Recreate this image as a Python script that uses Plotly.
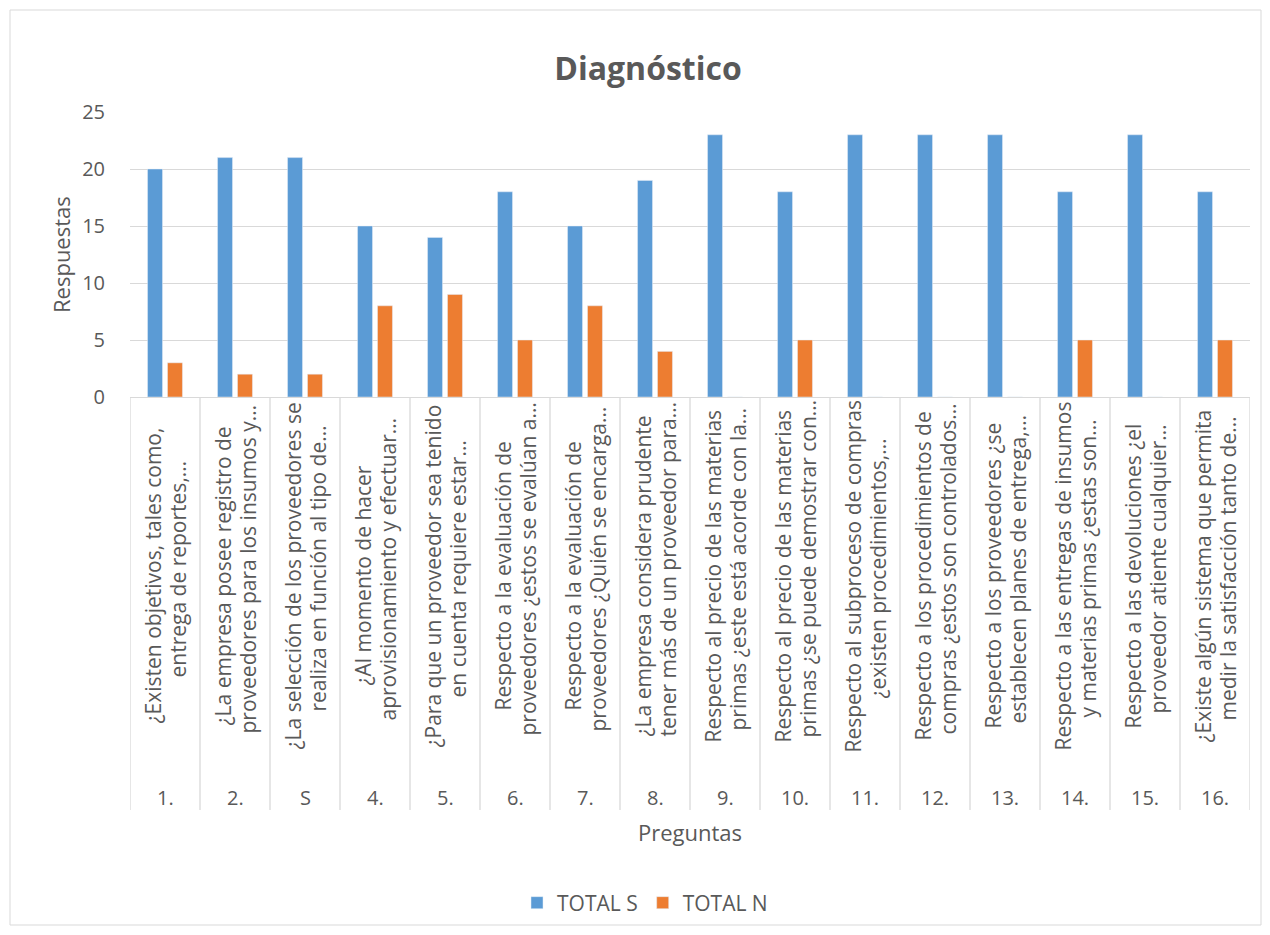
import plotly.graph_objects as go

# ---- data ----
num_labels = ["1.", "2.", "S", "4.", "5.", "6.", "7.", "8.", "9.", "10.",
              "11.", "12.", "13.", "14.", "15.", "16."]
question_line1 = [
    "¿Existen objetivos, tales como,",
    "¿La empresa posee registro de",
    "¿La selección de los proveedores se",
    "¿Al momento de hacer",
    "¿Para que un proveedor sea tenido",
    "Respecto a la evaluación de",
    "Respecto a la evaluación de",
    "¿La empresa considera prudente",
    "Respecto al precio de las materias",
    "Respecto al precio de las materias",
    "Respecto al subproceso de compras",
    "Respecto a los procedimientos de",
    "Respecto a los proveedores ¿se",
    "Respecto a las entregas de insumos",
    "Respecto a las devoluciones ¿el",
    "¿Existe algún sistema que permita",
]
question_line2 = [
    "entrega de reportes,…",
    "proveedores para los insumos y…",
    "realiza en función al tipo de…",
    "aprovisionamiento y efectuar…",
    "en cuenta requiere estar…",
    "proveedores ¿estos se evalúan a…",
    "proveedores ¿Quién se encarga…",
    "tener más de un proveedor para…",
    "primas ¿este está acorde con la…",
    "primas ¿se puede demostrar con…",
    "¿existen procedimientos,…",
    "compras ¿estos son controlados…",
    "establecen planes de entrega,…",
    "y materias primas ¿estas son…",
    "proveedor atiente cualquier…",
    "medir la satisfacción tanto de…",
]
total_s = [20, 21, 21, 15, 14, 18, 15, 19, 23, 18, 23, 23, 23, 18, 23, 18]
total_n = [3, 2, 2, 8, 9, 5, 8, 4, 0, 5, 0, 0, 0, 5, 0, 5]
y_ticks = [0, 5, 10, 15, 20, 25]

# ---- layout geometry (pixels, in screenshot coords) ----
OFF = 8                      # page body margin
W, H = 1270 - OFF, 935 - OFF
L, R, T, B0 = 130, 1250, 112, 397   # plot area in screenshot coords
ph = B0 - T
def py(ypix):  # screenshot pixel -> paper y
    return (B0 - ypix) / ph
def px(xpix):
    return (xpix - L) / (R - L)
def cy(ypix):  # screenshot pixel -> container y
    return 1 - (ypix - OFF) / H
def cx(xpix):
    return (xpix - OFF) / W

FONT = "Open Sans"
GREY = "#595959"
LINE = "#d9d9d9"
CAT_W = (R - L) / len(num_labels)
line_off = 12.5 / CAT_W      # half line spacing in category units

fig = go.Figure()
fig.add_trace(go.Bar(x=num_labels, y=total_s, name="TOTAL S",
                     marker=dict(color="#5B9BD5")))
fig.add_trace(go.Bar(x=num_labels, y=total_n, name="TOTAL N",
                     marker=dict(color="#ED7D31")))

annotations = []
shapes = []
n = len(num_labels)
for i in range(n):
    for txt, dx, yc in ((question_line1[i], -line_off, 576),
                        (question_line2[i], line_off, 569)):
        annotations.append(dict(
            x=i + dx, xref="x", y=py(yc), yref="paper", text=txt,
            textangle=-90, xanchor="center", yanchor="middle",
            showarrow=False, font=dict(family=FONT, size=21, color=GREY)))
    annotations.append(dict(
        x=i, xref="x", y=py(797), yref="paper", text=num_labels[i],
        xanchor="center", yanchor="middle", showarrow=False,
        font=dict(family=FONT, size=20, color=GREY)))
for i in range(n + 1):
    shapes.append(dict(type="line", xref="x", yref="paper",
                       x0=i - 0.5, x1=i - 0.5, y0=0, y1=py(810),
                       line=dict(color=LINE, width=1.3)))

# outer chart border
shapes.append(dict(type="rect", xref="paper", yref="paper",
                   x0=px(10), x1=px(1261), y0=py(925), y1=py(10),
                   line=dict(color=LINE, width=1), layer="below"))

annotations.append(dict(x=px(690), xref="paper", y=py(832), yref="paper",
                        text="Preguntas", showarrow=False,
                        xanchor="center", yanchor="middle",
                        font=dict(family=FONT, size=22, color=GREY)))
annotations.append(dict(x=px(61), xref="paper", y=py(255), yref="paper",
                        text="Respuestas", textangle=-90, showarrow=False,
                        xanchor="center", yanchor="middle",
                        font=dict(family=FONT, size=22, color=GREY)))

fig.update_layout(
    width=W, height=H,
    margin=dict(l=L - OFF, r=W - (R - OFF), t=T - OFF, b=H - (B0 - OFF),
                autoexpand=False),
    paper_bgcolor="white", plot_bgcolor="white",
    barmode="group", bargap=0.43, bargroupgap=0.25,
    title=dict(text="<b>Diagnóstico</b>", x=cx(648), xref="container",
               y=cy(69), yref="container", xanchor="center",
               yanchor="middle",
               font=dict(family=FONT, size=32, color=GREY)),
    xaxis=dict(type="category", showticklabels=False, showgrid=False,
               showline=True, linecolor=LINE, linewidth=1.3, ticks="",
               range=[-0.5, n - 0.5]),
    yaxis=dict(range=[0, 25], tickvals=y_ticks, showgrid=True,
               gridcolor=LINE, gridwidth=1.3, zeroline=False, showline=False,
               ticks="outside", ticklen=20, tickcolor="rgba(0,0,0,0)",
               tickfont=dict(family=FONT, size=20, color=GREY)),
    legend=dict(orientation="h", xref="container", yref="container",
                x=cx(645), y=cy(903), xanchor="center", yanchor="middle",
                font=dict(family=FONT, size=21, color=GREY),
                itemwidth=30, traceorder="normal"),
    annotations=annotations, shapes=shapes,
    font=dict(family=FONT, color=GREY),
)

fig.write_html("out.html")
